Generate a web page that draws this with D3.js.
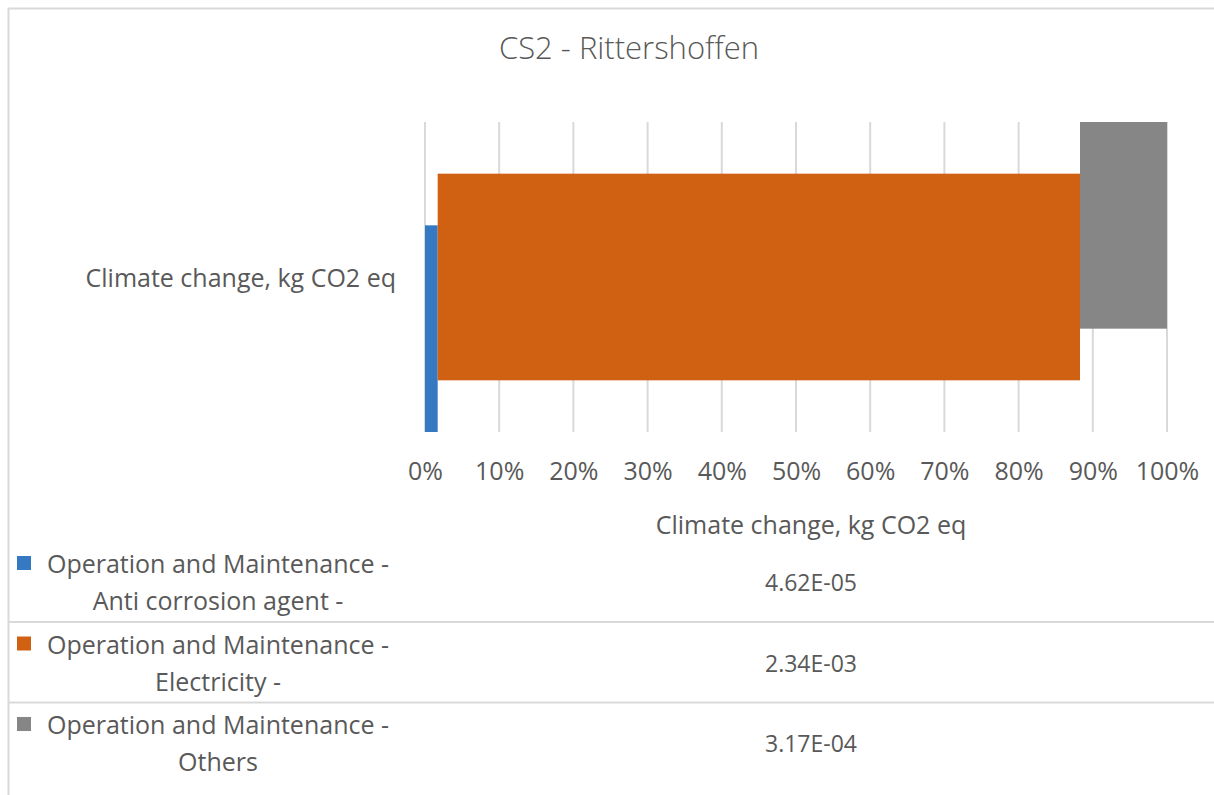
<!DOCTYPE html>
<html>
<head>
<meta charset="utf-8">
<script src="https://cdn.jsdelivr.net/npm/d3@7"></script>
<style>
  html, body { margin: 0; padding: 0; background: #fff; }
  svg { display: block; }
  text { font-family: "Open Sans", "Noto Sans", sans-serif; fill: #595959; }
</style>
</head>
<body>
<svg id="chart" width="1214" height="795"></svg>
<script>
// ---- Data ----
const title = "CS2 - Rittershoffen";
const categories = ["Climate change, kg CO2 eq"];
const seriesNames = [
  "Operation and Maintenance - Anti corrosion agent -",
  "Operation and Maintenance - Electricity -",
  "Operation and Maintenance - Others"
];
const seriesLabelLines = [
  ["Operation and Maintenance -", "Anti corrosion agent -"],
  ["Operation and Maintenance -", "Electricity -"],
  ["Operation and Maintenance -", "Others"]
];
const seriesValues = [4.62e-05, 2.34e-03, 3.17e-04];
const valueLabels = ["4.62E-05", "2.34E-03", "3.17E-04"];
const tickValues = [0, 0.1, 0.2, 0.3, 0.4, 0.5, 0.6, 0.7, 0.8, 0.9, 1.0];
const seriesColors = ["#3579c2", "#d06012", "#868686"];

// ---- Layout ----
const W = 1214, H = 795;
const svg = d3.select("#chart");
svg.append("rect").attr("width", W).attr("height", H).attr("fill", "#fff");

const gridColor = "#d9d9d9";
const fs = "25px";
// chart border (top & left visible)
svg.append("line").attr("x1", 8).attr("x2", W).attr("y1", 8.5).attr("y2", 8.5)
  .attr("stroke", gridColor).attr("stroke-width", 2);
svg.append("line").attr("x1", 8.5).attr("x2", 8.5).attr("y1", 8).attr("y2", H)
  .attr("stroke", gridColor).attr("stroke-width", 2);

// title
svg.append("text").attr("x", 629).attr("y", 47)
  .attr("text-anchor", "middle").attr("dominant-baseline", "central")
  .style("font-size", "31px").style("font-weight", 300).text(title);

const plot = { left: 425, right: 1167, top: 122, bottom: 432 };
const ph = plot.bottom - plot.top;

const total = d3.sum(seriesValues);
const x = d3.scaleLinear().domain([0, 1]).range([plot.left, plot.right]);

// gridlines
svg.append("g").selectAll("line").data(tickValues).join("line")
  .attr("x1", d => x(d)).attr("x2", d => x(d))
  .attr("y1", plot.top).attr("y2", plot.bottom)
  .attr("stroke", gridColor).attr("stroke-width", 2);

// series offsets (Excel-like shifted bars)
const yCenter = d3.scalePoint()
  .domain(d3.range(seriesValues.length).reverse())
  .range([plot.top + ph / 3, plot.bottom - ph / 3]);
const barH = ph * 2 / 3;

// stacked 100%
const stackData = [Object.fromEntries(seriesValues.map((v, i) => [i, v / total]))];
const stacked = d3.stack().keys(d3.range(seriesValues.length))(stackData);

svg.append("g").selectAll("rect").data(stacked).join("rect")
  .attr("x", s => x(s[0][0]))
  .attr("width", s => x(s[0][1]) - x(s[0][0]))
  .attr("y", s => yCenter(s.key) - barH / 2)
  .attr("height", barH)
  .attr("fill", (s, i) => seriesColors[i]);

// category label
svg.append("text").attr("x", 396).attr("y", 277)
  .attr("text-anchor", "end").attr("dominant-baseline", "central")
  .style("font-size", fs).text(categories[0]);

// x axis tick labels
const axis = d3.axisBottom(x).tickValues(tickValues).tickFormat(d3.format(".0%")).tickSize(0).tickPadding(0);
const ax = svg.append("g").attr("transform", `translate(0, ${470})`).call(axis);
ax.select(".domain").remove();
ax.selectAll("text").attr("dy", null).attr("dominant-baseline", "central")
  .style("font-size", fs).style("font-family", '"Open Sans", sans-serif').attr("fill", "#595959");

// data table
const colCenter = 811;
svg.append("text").attr("x", colCenter).attr("y", 524)
  .attr("text-anchor", "middle").attr("dominant-baseline", "central")
  .style("font-size", fs).text(categories[0]);

const rowTop = 541, rowH = 80.5;
const rows = svg.append("g").selectAll("g").data(seriesValues).join("g")
  .attr("transform", (d, i) => `translate(0, ${rowTop + i * rowH})`);

rows.filter((d, i) => i > 0).append("line")
  .attr("x1", 8).attr("x2", W).attr("y1", 0.5).attr("y2", 0.5)
  .attr("stroke", gridColor).attr("stroke-width", 2);

rows.append("rect").attr("x", 17).attr("y", 15).attr("width", 14).attr("height", 14)
  .attr("fill", (d, i) => seriesColors[i]);

rows.each(function(d, i) {
  const g = d3.select(this);
  seriesLabelLines[i].forEach((line, j) => {
    g.append("text").attr("x", 218).attr("y", 22 + j * 37)
      .attr("text-anchor", "middle").attr("dominant-baseline", "central")
      .style("font-size", fs).text(line);
  });
  g.append("text").attr("x", colCenter).attr("y", 41)
    .attr("text-anchor", "middle").attr("dominant-baseline", "central")
    .style("font-size", "23px").text(valueLabels[i]);
});
</script>
</body>
</html>
